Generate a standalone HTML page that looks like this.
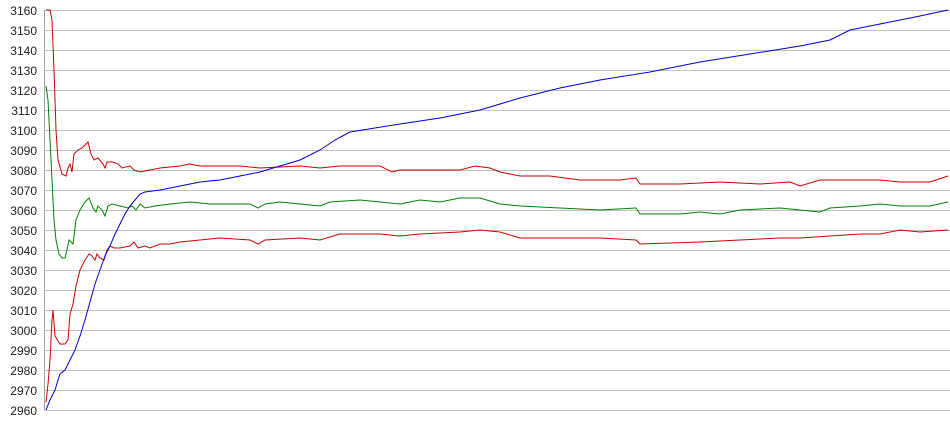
<!DOCTYPE html>
<html><head><meta charset="utf-8"><style>
html,body{margin:0;padding:0;background:#fff;}
svg{display:block;}
text{font-family:"Liberation Sans",sans-serif;font-size:12px;fill:#222;}
</style></head><body>
<svg id="c" width="950" height="435" xmlns="http://www.w3.org/2000/svg"></svg>
<script>
const s=document.getElementById('c');
const Y=v=>10+(3160-v)*2;
let h='';
for(let v=2960;v<=3160;v+=10){const y=Y(v)+0.5;
h+=`<line x1="44" y1="${y}" x2="950" y2="${y}" stroke="#c0c0c0" stroke-width="1"/>`;
h+=`<text x="37" y="${y+4.5}" text-anchor="end">${v}</text>`;}
h+=`<line x1="44.5" y1="10" x2="44.5" y2="410" stroke="#a0a0a0"/>`;
function pl(arr,col){let p=[];for(let i=0;i<arr.length;i+=2)p.push(arr[i]+','+Y(arr[i+1]));
return `<polyline points="${p.join(' ')}" fill="none" stroke="${col}" stroke-width="1"/>`;}
const green=[46,3122,48,3115,50,3095,52,3075,54,3055,56,3045,59,3038,62,3036,65,3036,67,3040,69,3045,71,3044,73,3043,76,3055,80,3060,85,3064,89,3066,93,3061,96,3059,98,3062,102,3060,105,3057,108,3062,112,3063,120,3062,128,3061,132,3062,136,3060,140,3063,145,3061,155,3062,170,3063,190,3064,210,3063,230,3063,250,3063,258,3061,265,3063,280,3064,300,3063,320,3062,330,3064,360,3065,380,3064,400,3063,420,3065,440,3064,460,3066,480,3066,500,3063,520,3062,560,3061,600,3060,636,3061,640,3058,680,3058,700,3059,720,3058,740,3060,780,3061,800,3060,820,3059,830,3061,860,3062,880,3063,900,3062,930,3062,948,3064];
const up=[46,3160,50,3160,52,3155,54,3130,56,3100,58,3085,62,3078,66,3077,68,3081,70,3083,72,3079,74,3088,78,3090,82,3091,88,3094,91,3088,94,3085,98,3086,103,3083,105,3081,107,3084,113,3084,118,3083,122,3081,130,3082,134,3080,140,3079,150,3080,160,3081,180,3082,190,3083,200,3082,240,3082,260,3081,300,3082,320,3081,340,3082,380,3082,392,3079,400,3080,430,3080,460,3080,475,3082,490,3081,500,3079,520,3077,550,3077,580,3075,620,3075,636,3076,640,3073,680,3073,720,3074,760,3073,790,3074,800,3072,820,3075,850,3075,880,3075,900,3074,930,3074,948,3077];
const lo=[46,2964,48,2973,50,2985,52,3005,53,3010,55,2997,60,2993,65,2993,68,2995,70,3008,73,3013,76,3022,80,3030,85,3035,89,3038,92,3037,95,3035,97,3038,100,3036,104,3035,107,3040,110,3042,114,3041,120,3041,130,3042,134,3044,138,3041,145,3042,150,3041,160,3043,170,3043,180,3044,200,3045,220,3046,250,3045,258,3043,265,3045,300,3046,320,3045,340,3048,380,3048,400,3047,420,3048,460,3049,480,3050,500,3049,520,3046,560,3046,600,3046,636,3045,640,3043,700,3044,740,3045,780,3046,800,3046,830,3047,860,3048,880,3048,900,3050,920,3049,948,3050];
const blue=[46,2960,50,2965,55,2970,58,2975,60,2978,65,2980,70,2985,75,2990,80,2997,85,3005,90,3014,95,3023,100,3030,105,3037,110,3042,115,3048,120,3053,125,3058,130,3062,135,3065,140,3068,145,3069,160,3070,180,3072,200,3074,220,3075,240,3077,260,3079,280,3082,300,3085,320,3090,335,3095,350,3099,400,3103,440,3106,480,3110,520,3116,560,3121,600,3125,650,3129,700,3134,750,3138,800,3142,830,3145,850,3150,880,3153,920,3157,948,3160];
h+=pl(green,'#008000')+pl(up,'#cc0000')+pl(lo,'#cc0000')+pl(blue,'#0000cc');
s.innerHTML=h;
</script>
</body></html>
